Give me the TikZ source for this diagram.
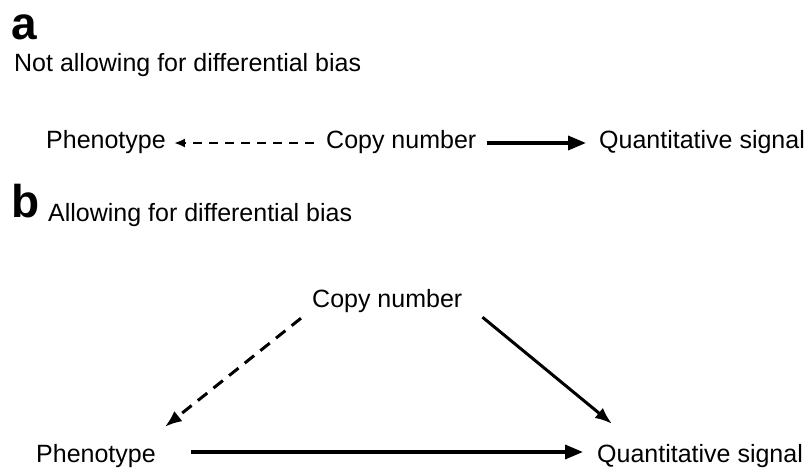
\documentclass[tikz,border=0pt]{standalone}
\usepackage{fontspec}
\setmainfont{Liberation Sans}
\usepackage{tikz}
\usetikzlibrary{arrows.meta, positioning, calc}

\begin{document}
\begin{tikzpicture}[x=1pt, y=-1pt,
        lbl/.style={anchor=base west, inner sep=0pt, text height=18pt, text depth=6pt, font=\fontsize{25}{30}\selectfont},
        panel/.style={anchor=base west, inner sep=0pt, font=\fontsize{46}{50}\selectfont\bfseries},
        dasharrow/.style={-{Latex[length=11pt, width=9pt]}, line width=2.5pt, dash pattern=on 9pt off 7pt},
        solidarrow/.style={-{Triangle[length=18pt, width=14pt]}, line width=3.5pt}]
        \useasboundingbox (0,0) rectangle (809,468);
        % panel a
        \node[panel] (la) at (11,40) {a};
        \node[lbl] (ta) at (14,72) {Not allowing for differential bias};
        \node[lbl] (phA) at (46,149) {Phenotype};
        \node[lbl] (cnA) at (326,149) {Copy number};
        \node[lbl] (qsA) at (599,149) {Quantitative signal};
        \draw[dasharrow, shorten <=12pt, shorten >=8pt] (cnA.west) -- (phA.east);
        \draw[solidarrow, shorten <=11pt, shorten >=13pt] (cnA.east) -- (qsA.west);
        % panel b
        \node[panel] (lb) at (11,217) {b};
        \node[lbl] (tb) at (48,222) {Allowing for differential bias};
        \node[lbl] (cnB) at (312,307) {Copy number};
        \node[lbl] (phB) at (36,462) {Phenotype};
        \node[lbl] (qsB) at (597,462) {Quantitative signal};
        \draw[dasharrow, line width=3pt, dash pattern=on 12pt off 8pt, -{Latex[length=17pt, width=13pt]}] ($(cnB.south west)+(-11,5)$) -- ($(phB.north east)+(9,-17)$);
        \draw[-{Latex[length=17pt, width=13pt]}, line width=3pt] ($(cnB.south east)+(20,4)$) -- ($(qsB.north west)+(15,-20)$);
        \draw[solidarrow] ($(phB.east)+(35,-4)$) -- ($(qsB.west)+(-14,-4)$);
    \end{tikzpicture}
\end{document}
